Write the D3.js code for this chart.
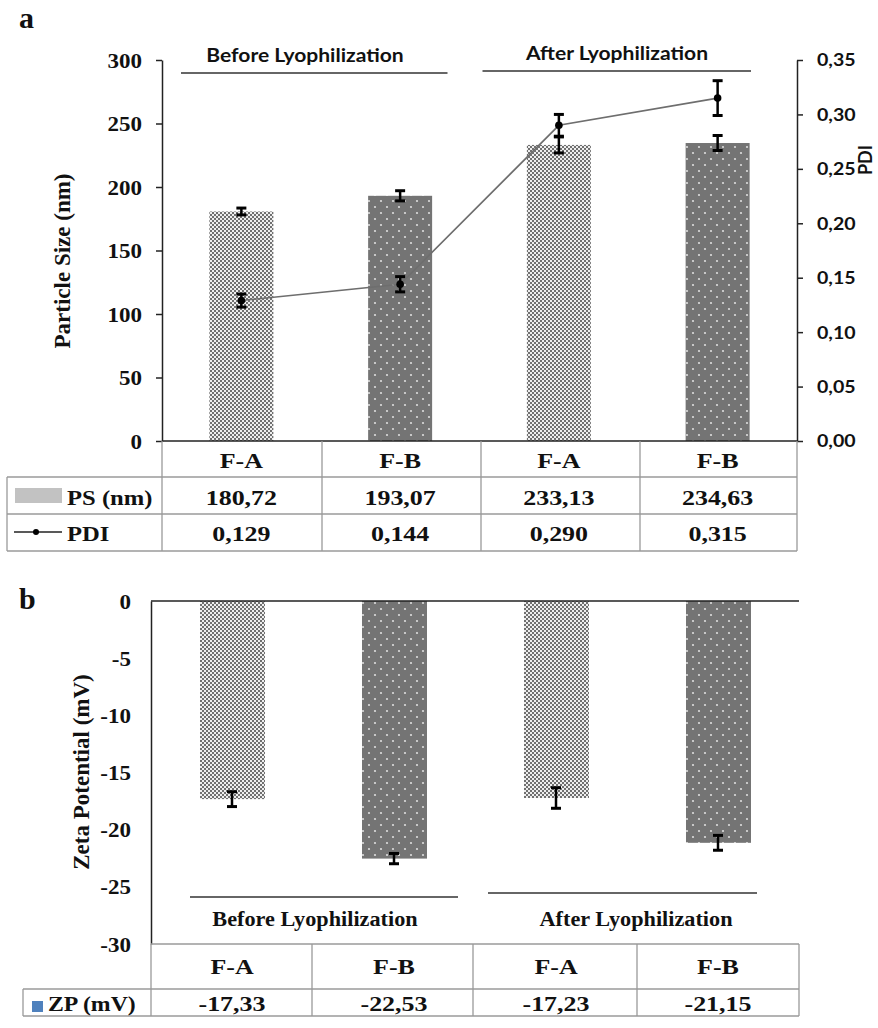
<!DOCTYPE html>
<html><head><meta charset="utf-8">
<script src="https://cdn.jsdelivr.net/npm/d3@7"></script>
<style>body{margin:0;background:#fff}svg{display:block}</style>
</head><body>
<script>
// ---- data ----
const categories = ["F-A", "F-B", "F-A", "F-B"];
const groups = ["Before Lyophilization", "After Lyophilization"];
const psValues = [180.72, 193.07, 233.13, 234.63];
const psErrors = [2.7, 4.0, 6.3, 5.9];
const pdiValues = [0.129, 0.144, 0.290, 0.315];
const pdiErrors = [0.006, 0.007, 0.010, 0.016];
const zpValues = [-17.33, -22.53, -17.23, -21.15];
const zpErrors = [0.65, 0.45, 0.9, 0.65];
const psTicks = [0, 50, 100, 150, 200, 250, 300];
const pdiTicks = [0, 0.05, 0.10, 0.15, 0.20, 0.25, 0.30, 0.35];
const zpTicks = [0, -5, -10, -15, -20, -25, -30];

const W = 878, H = 1028;
const SERIF = "'Liberation Serif','Times New Roman',serif";
const SANS = "Lato,'Open Sans',sans-serif";
const SX = 1.15;
const comma = s => s.replace(".", ",");

const svg = d3.select("body").append("svg").attr("width", W).attr("height", H);
const defs = svg.append("defs");
const pA = defs.append("pattern").attr("id", "patA").attr("patternUnits", "userSpaceOnUse").attr("width", 4).attr("height", 4);
pA.append("rect").attr("width", 4).attr("height", 4).attr("fill", "#eeeeee");
pA.append("rect").attr("width", 2).attr("height", 2).attr("fill", "#707070");
pA.append("rect").attr("x", 2).attr("y", 2).attr("width", 2).attr("height", 2).attr("fill", "#707070");
const pB = defs.append("pattern").attr("id", "patB").attr("patternUnits", "userSpaceOnUse").attr("width", 12).attr("height", 12);
pB.append("rect").attr("width", 12).attr("height", 12).attr("fill", "#747474");
pB.append("circle").attr("cx", 3).attr("cy", 3).attr("r", 1.1).attr("fill", "#dcdcdc");
pB.append("circle").attr("cx", 9).attr("cy", 9).attr("r", 1.1).attr("fill", "#dcdcdc");
const fills = ["url(#patA)", "url(#patB)", "url(#patA)", "url(#patB)"];

function stext(g, x, y, str, opt) {
  const o = Object.assign({size: 20, anchor: "middle", font: SERIF, weight: "bold", sx: SX, fill: "#111"}, opt || {});
  return g.append("text").attr("transform", `translate(${x},${y}) scale(${o.sx},1)`)
    .attr("text-anchor", o.anchor).attr("font-family", o.font).attr("font-weight", o.weight)
    .attr("font-size", o.size).attr("fill", o.fill).text(str);
}
function errBar(g, x, yTop, yBot, cap) {
  g.append("line").attr("x1", x).attr("x2", x).attr("y1", yTop).attr("y2", yBot).attr("stroke", "#000").attr("stroke-width", 2.5);
  [yTop, yBot].forEach(y => g.append("line").attr("x1", x - cap / 2).attr("x2", x + cap / 2).attr("y1", y).attr("y2", y).attr("stroke", "#000").attr("stroke-width", 3));
}

// ================= Panel a =================
const ga = svg.append("g");
const xa = d3.scaleBand().domain(d3.range(categories.length)).range([162, 797]).padding(0);
const psY = d3.scaleLinear().domain([0, 300]).range([441, 60]);
const pdiY = d3.scaleLinear().domain([0, 0.35]).range([441, 60]);
const barW = 64;
const cx = i => xa(i) + xa.bandwidth() / 2;

stext(ga, 19, 28, "a", {size: 30, anchor: "start", sx: 1});

// bars
ga.selectAll("rect.ps").data(psValues).join("rect").attr("class", "ps")
  .attr("x", (d, i) => cx(i) - barW / 2).attr("width", barW)
  .attr("y", d => psY(d)).attr("height", d => psY(0) - psY(d))
  .attr("fill", (d, i) => fills[i]);
psValues.forEach((v, i) => errBar(ga, cx(i), psY(v + psErrors[i]), psY(v - psErrors[i]), 10));

// PDI line
ga.append("path").datum(pdiValues)
  .attr("d", d3.line().x((d, i) => cx(i)).y(d => pdiY(d)))
  .attr("fill", "none").attr("stroke", "#6e6e6e").attr("stroke-width", 1.6);
pdiValues.forEach((v, i) => errBar(ga, cx(i), pdiY(v + pdiErrors[i]), pdiY(v - pdiErrors[i]), 10));
ga.selectAll("circle.pdi").data(pdiValues).join("circle").attr("class", "pdi")
  .attr("cx", (d, i) => cx(i)).attr("cy", d => pdiY(d)).attr("r", 3.8).attr("fill", "#000");

// left axis
const axL = ga.append("g").attr("transform", "translate(162,0)")
  .call(d3.axisLeft(psY).tickValues(psTicks).tickSize(6).tickSizeOuter(0).tickFormat(d => d));
axL.select(".domain").attr("stroke", "#222").attr("stroke-width", 1.5);
axL.selectAll(".tick line").attr("stroke", "#222").attr("stroke-width", 1.5);
axL.selectAll(".tick text").attr("font-family", SERIF).attr("font-weight", "bold").attr("font-size", 20)
  .attr("fill", "#111").attr("x", -20 / SX).attr("dy", "0.35em").attr("transform", `scale(${SX},1)`);

// right axis
const axR = ga.append("g").attr("transform", "translate(797,0)")
  .call(d3.axisRight(pdiY).tickValues(pdiTicks).tickSize(6).tickSizeOuter(0).tickFormat(d => comma(d.toFixed(2))));
axR.select(".domain").attr("stroke", "#222").attr("stroke-width", 1.5);
axR.selectAll(".tick line").attr("stroke", "#222").attr("stroke-width", 1.5);
axR.selectAll(".tick text").attr("font-family", SANS).attr("font-weight", "bold").attr("font-size", 17)
  .attr("fill", "#111").attr("x", 20 / SX).attr("dy", "0.35em").attr("transform", `scale(${SX},1)`);

// axis titles
ga.append("text").attr("transform", "translate(70,261) rotate(-90)").attr("text-anchor", "middle")
  .attr("font-family", SERIF).attr("font-weight", "bold").attr("font-size", 23).attr("fill", "#111").text("Particle Size (nm)");
ga.append("text").attr("transform", "translate(872,160) rotate(-90)").attr("text-anchor", "middle")
  .attr("font-family", SANS).attr("font-weight", "bold").attr("font-size", 18).attr("fill", "#111").text("PDI");

// group labels (top)
const gA = [{s: xa(0) + 19, e: xa(2) - 32, y: 73, ty: 62, tx: 305}, {s: xa(2) + 3, e: 797 - 46, y: 71, ty: 60, tx: 617}];
gA.forEach((g, k) => {
  ga.append("line").attr("x1", g.s).attr("x2", g.e).attr("y1", g.y).attr("y2", g.y).attr("stroke", "#333").attr("stroke-width", 1.6);
  stext(ga, g.tx, g.ty, groups[k], {size: 18, font: SANS, sx: 1.17});
});

// x axis line
ga.append("line").attr("x1", 162).attr("x2", 797).attr("y1", 441).attr("y2", 441).attr("stroke", "#222").attr("stroke-width", 1.5);

// table a
const tA = ga.append("g").attr("stroke", "#9a9a9a").attr("stroke-width", 1.3);
[162, 322, 481, 640, 797].forEach(x => tA.append("line").attr("x1", x).attr("x2", x).attr("y1", 441).attr("y2", 551));
[477, 514, 551].forEach(y => tA.append("line").attr("x1", 7).attr("x2", 797).attr("y1", y).attr("y2", y));
tA.append("line").attr("x1", 7).attr("x2", 7).attr("y1", 477).attr("y2", 551);
const TS = 22, TSX = 1.18;
categories.forEach((c, i) => stext(ga, cx(i), 468, c, {size: TS, sx: TSX}));
psValues.forEach((v, i) => stext(ga, cx(i), 505, comma(v.toFixed(2)), {size: TS, sx: TSX}));
pdiValues.forEach((v, i) => stext(ga, cx(i), 541, comma(v.toFixed(3)), {size: TS, sx: TSX}));
ga.append("rect").attr("x", 15).attr("y", 488).attr("width", 47).attr("height", 15).attr("fill", "#c2c2c2");
stext(ga, 67, 505, "PS (nm)", {size: TS, anchor: "start", sx: 1.12});
ga.append("line").attr("x1", 14).attr("x2", 62).attr("y1", 532).attr("y2", 532).attr("stroke", "#222").attr("stroke-width", 1.3);
ga.append("circle").attr("cx", 36).attr("cy", 532).attr("r", 3).attr("fill", "#000");
stext(ga, 67, 541, "PDI", {size: TS, anchor: "start", sx: 1.12});

// ================= Panel b =================
const gb = svg.append("g");
const xb = d3.scaleBand().domain(d3.range(categories.length)).range([151, 799]).padding(0);
const zpY = d3.scaleLinear().domain([-30, 0]).range([944, 601]);
const cxb = i => xb(i) + xb.bandwidth() / 2;

stext(gb, 19, 609, "b", {size: 30, anchor: "start", sx: 1});

gb.selectAll("rect.zp").data(zpValues).join("rect").attr("class", "zp")
  .attr("x", (d, i) => cxb(i) - 32).attr("width", 65)
  .attr("y", zpY(0)).attr("height", d => zpY(d) - zpY(0))
  .attr("fill", (d, i) => fills[i]);
zpValues.forEach((v, i) => errBar(gb, cxb(i), zpY(v + zpErrors[i]), zpY(v - zpErrors[i]), 10));

const axB = gb.append("g").attr("transform", "translate(151,0)")
  .call(d3.axisLeft(zpY).tickValues(zpTicks).tickSize(0).tickSizeOuter(0).tickFormat(d => d));
axB.select(".domain").attr("stroke", "#222").attr("stroke-width", 1.5);
axB.selectAll(".tick text").attr("font-family", SERIF).attr("font-weight", "bold").attr("font-size", 20)
  .attr("fill", "#111").attr("x", -20 / SX).attr("dy", "0.35em").attr("transform", `scale(${SX},1)`);
// zero line
gb.append("line").attr("x1", 151).attr("x2", 799).attr("y1", zpY(0)).attr("y2", zpY(0)).attr("stroke", "#222").attr("stroke-width", 1.6);

gb.append("text").attr("transform", "translate(89,772) rotate(-90)").attr("text-anchor", "middle")
  .attr("font-family", SERIF).attr("font-weight", "bold").attr("font-size", 23).attr("fill", "#111").text("Zeta Potential (mV)");

const gB = [{s: 190, e: 458, y: 897, tx: 315, ty: 926}, {s: 488, e: 757, y: 893, tx: 636, ty: 926}];
gB.forEach((g, k) => {
  gb.append("line").attr("x1", g.s).attr("x2", g.e).attr("y1", g.y).attr("y2", g.y).attr("stroke", "#333").attr("stroke-width", 1.6);
  stext(gb, g.tx, g.ty, groups[k], {size: 21, sx: 1.06});
});

// table b
const tB = gb.append("g").attr("stroke", "#9a9a9a").attr("stroke-width", 1.3);
[151, 312, 473, 637, 799].forEach(x => tB.append("line").attr("x1", x).attr("x2", x).attr("y1", 944).attr("y2", 1016));
tB.append("line").attr("x1", 151).attr("x2", 799).attr("y1", 944).attr("y2", 944);
[989, 1016].forEach(y => tB.append("line").attr("x1", 23).attr("x2", 799).attr("y1", y).attr("y2", y));
tB.append("line").attr("x1", 23).attr("x2", 23).attr("y1", 989).attr("y2", 1016);
categories.forEach((c, i) => stext(gb, cxb(i), 974, c, {size: TS, sx: TSX}));
zpValues.forEach((v, i) => stext(gb, cxb(i), 1011, comma(v.toFixed(2)), {size: TS, sx: TSX}));
gb.append("rect").attr("x", 32).attr("y", 1001).attr("width", 11).attr("height", 11).attr("fill", "#4f81bd");
stext(gb, 48, 1011, "ZP (mV)", {size: TS, anchor: "start", sx: 1.08});
</script>
</body></html>
